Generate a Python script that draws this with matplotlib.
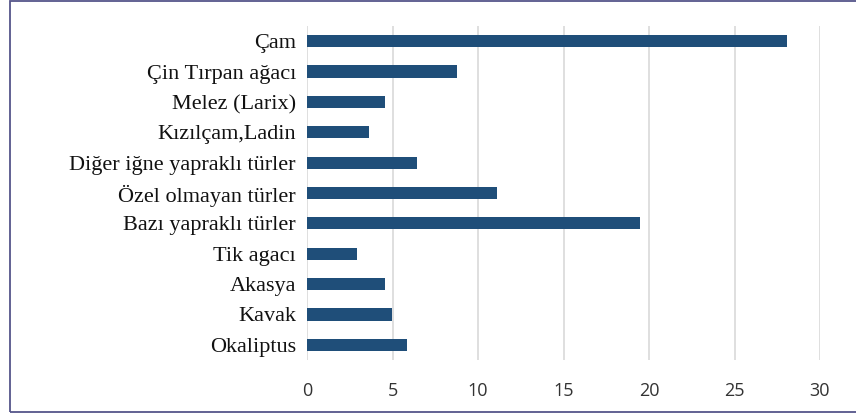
import matplotlib
matplotlib.use("Agg")
import matplotlib.pyplot as plt
from matplotlib.patches import Rectangle

categories = [
    "Çam",
    "Çin Tırpan ağacı",
    "Melez (Larix)",
    "Kızılçam,Ladin",
    "Diğer iğne yapraklı türler",
    "Özel olmayan türler",
    "Bazı yapraklı türler",
    "Tik agacı",
    "Akasya",
    "Kavak",
    "Okaliptus",
]
values = [28.05, 8.8, 4.55, 3.6, 6.45, 11.1, 19.5, 2.95, 4.55, 4.95, 5.85]
x_ticks = [0, 5, 10, 15, 20, 25, 30]

fig = plt.figure(figsize=(8.56, 4.18), dpi=100)
ax = fig.add_axes([307 / 856, 1 - 360 / 418, (820 - 307) / 856, (360 - 26) / 418])

ypos = list(range(len(categories)))
ax.barh(ypos, values, height=0.4, color="#1F4E79", zorder=3)

ax.set_xlim(0, 30)
ax.set_ylim(len(categories) - 0.5, -0.5)
ax.set_xticks(x_ticks)
ax.set_xticklabels([str(t) for t in x_ticks], fontfamily="Open Sans",
                   fontsize=13, color="#333333")
ax.set_yticks(ypos)
ax.set_yticklabels(categories, fontfamily="Liberation Serif", fontsize=16,
                   color="#111111")
ax.tick_params(axis="both", length=0)
ax.tick_params(axis="y", pad=8)
ax.tick_params(axis="x", pad=16)
ax.grid(axis="x", color="#D9D9D9", linewidth=1.2, zorder=0)
for s in ax.spines.values():
    s.set_visible(False)

# outer frame around the chart area
fig.patches.append(Rectangle((9.5 / 856, 1 - 412 / 418), 1.0, (411 / 418),
                             transform=fig.transFigure, fill=False,
                             edgecolor="#55558A", linewidth=1.3))

fig.savefig("out.png", dpi=100)
